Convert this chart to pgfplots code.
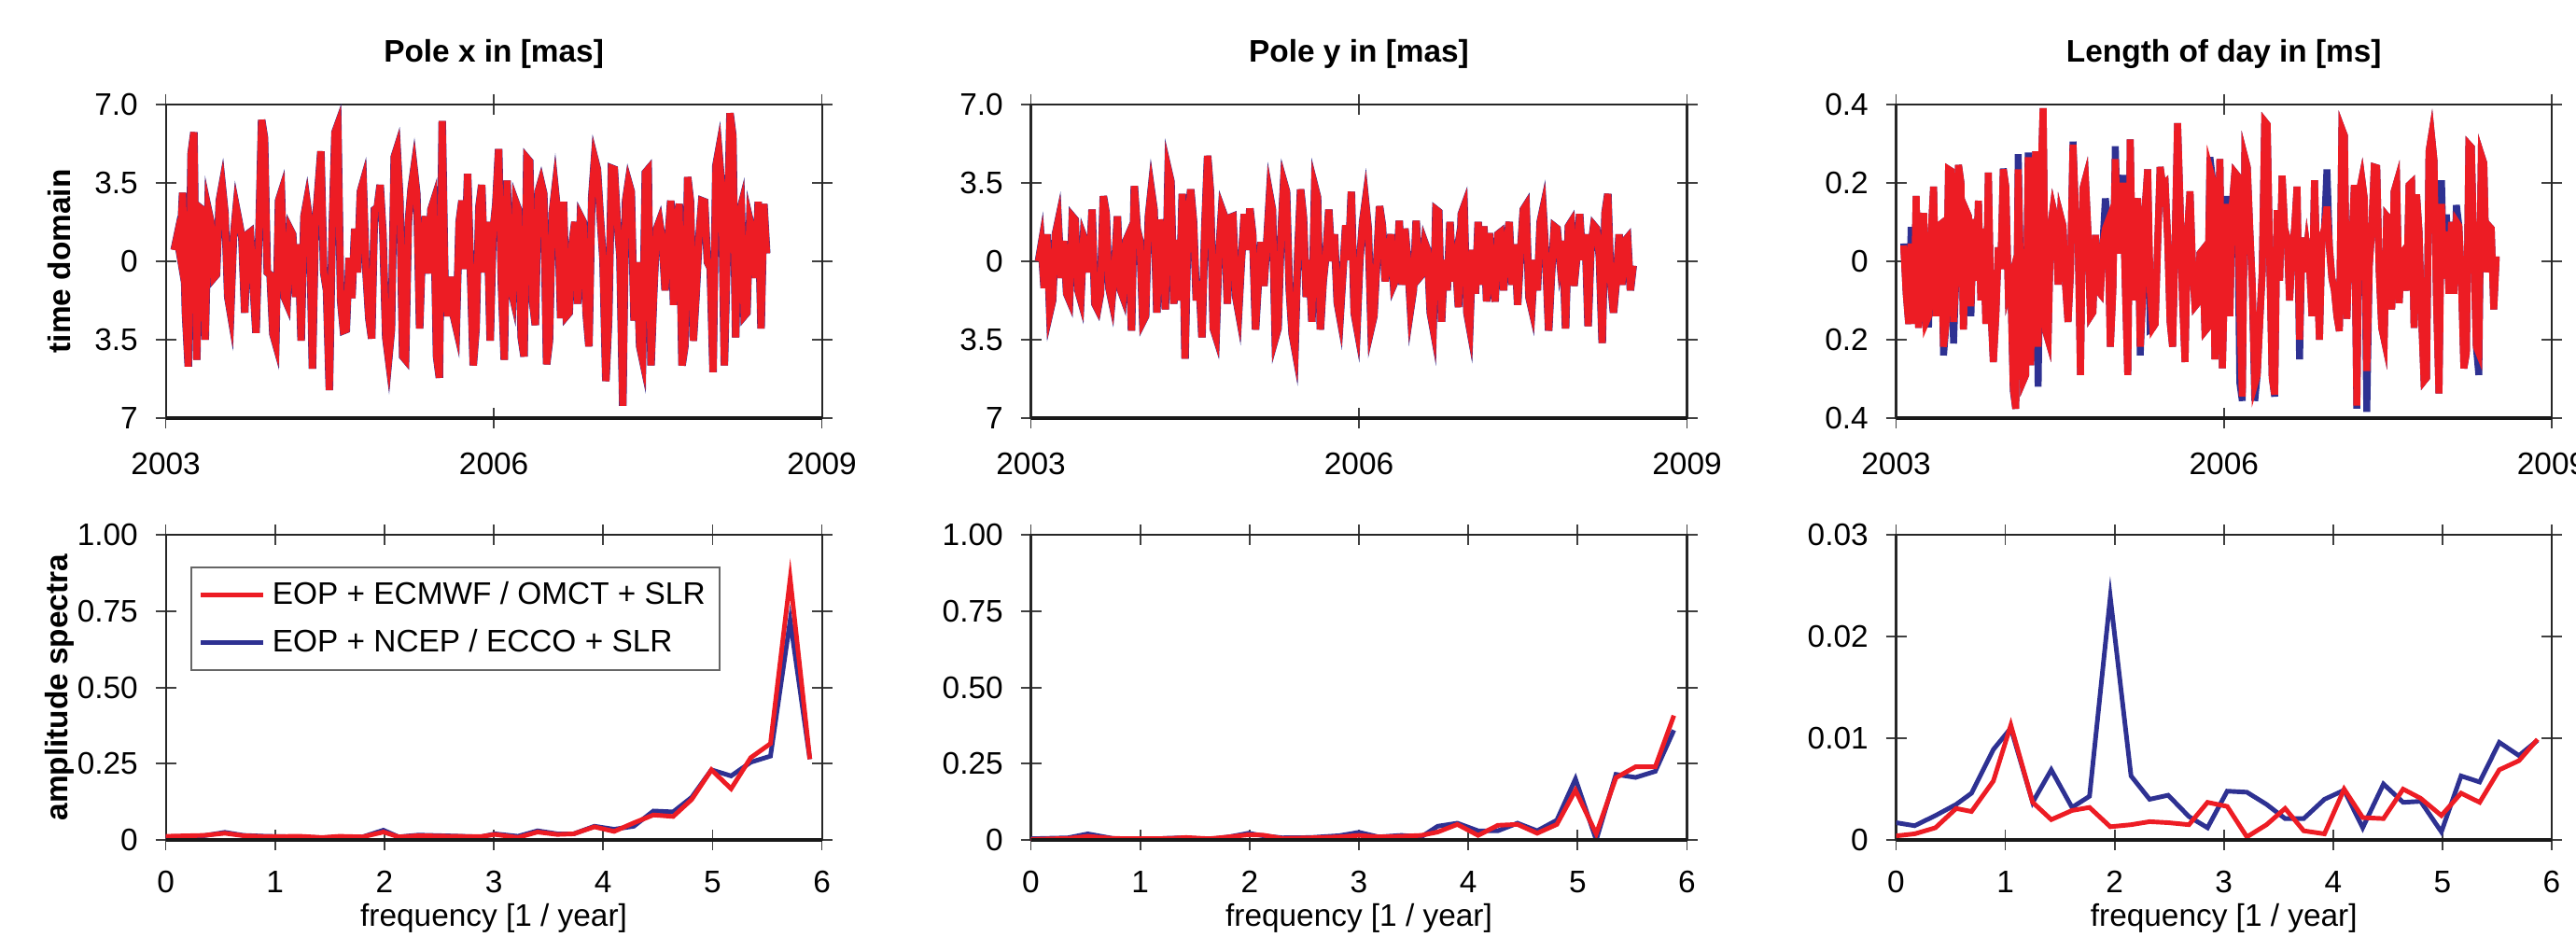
\documentclass[border=0pt]{standalone}
\usepackage{fontspec}
\setmainfont{Liberation Sans}
\usepackage{pgfplots}
\pgfplotsset{compat=1.18}
\usepackage{pgfplotstable}

\definecolor{eopred}{RGB}{237,28,36}
\definecolor{eopblue}{RGB}{46,49,146}

% weekly series (one value per sample)
\pgfplotstableread[row sep=\\]{v\\0.5\\1.1\\0.35\\3.05\\-2.3\\-4.7\\4.8\\5.75\\-4.4\\2.4\\2.3\\-3.5\\2.35\\1.75\\-0.75\\-0.6\\2.7\\3.4\\2.15\\-1.6\\-2.35\\1.05\\2.4\\1.75\\1.05\\-2.3\\1.2\\1.3\\-1.05\\-3.2\\1.05\\6.3\\5.5\\-0.5\\-0.6\\-3.25\\-3.7\\2.7\\3.1\\-1.6\\-1.9\\1.45\\1.2\\-1.6\\0.75\\-3.55\\2.0\\2.7\\1.75\\-4.8\\1.6\\3.25\\4.9\\-0.5\\-1.3\\-5.75\\1.3\\5.75\\6.1\\-1.75\\-3.1\\-3.05\\0.15\\-1.65\\1.45\\-0.5\\3.1\\3.55\\-0.5\\-2.55\\-3.45\\2.3\\2.4\\3.4\\1.2\\-3.4\\-4.4\\-3.05\\4.65\\5.05\\2.7\\-4.25\\-4.4\\1.75\\3.25\\4.15\\3.0\\-3.0\\0.85\\2.0\\-0.55\\2.3\\2.7\\-4.25\\-5.2\\6.25\\-1.3\\-2.45\\-0.7\\-2.45\\-3.0\\1.75\\2.7\\-0.35\\3.9\\-0.35\\-4.65\\-3.0\\2.4\\3.4\\-0.5\\1.75\\-3.55\\1.3\\2.55\\5.0\\-1.05\\-4.4\\3.6\\-1.05\\-1.6\\2.65\\2.3\\-3.4\\-4.25\\4.6\\4.45\\-1.75\\-2.85\\3.1\\3.55\\3.0\\-4.6\\-3.55\\2.15\\3.25\\2.0\\-2.55\\2.65\\-2.45\\-2.3\\0.75\\1.75\\-1.9\\2.0\\1.75\\-2.3\\-3.8\\2.85\\4.6\\4.1\\2.0\\0.05\\-5.35\\-2.55\\4.15\\4.1\\1.85\\0.2\\-6.45\\2.7\\3.55\\3.1\\-2.65\\-0.05\\-3.8\\-4.4\\3.95\\4.1\\-4.65\\-1.3\\1.45\\1.8\\0.9\\-1.3\\0.9\\2.7\\-1.95\\1.85\\2.55\\-4.65\\-3.8\\3.75\\2.65\\-3.55\\-1.45\\1.05\\2.7\\2.65\\-0.05\\-0.3\\-4.95\\4.25\\4.95\\3.4\\-4.65\\0.5\\6.6\\5.6\\-3.4\\2.0\\2.5\\-2.45\\-2.3\\1.85\\1.3\\-0.75\\2.65\\-3.0\\2.55\\0.35\\}\polex

\pgfplotstableread[row sep=\\]{v\\0\\0.75\\-1.2\\1.2\\-2.3\\-1.75\\1.2\\1.8\\-0.75\\0.9\\-1.45\\-1.75\\2.0\\1.85\\-1.3\\-1.75\\1.1\\0.75\\-0.5\\2.3\\-1.9\\-2.15\\-1.45\\2.9\\2.15\\-1.2\\-1.8\\-0.35\\2.0\\-1.25\\-1.6\\0.9\\1.2\\-3.1\\3.35\\1.45\\0.9\\-2.7\\-2.45\\2.0\\3.2\\2.3\\-2.3\\1.85\\1.05\\-2.15\\4.1\\3.55\\-1.9\\0.95\\-1.75\\3.0\\-4.35\\1.75\\3.2\\1.75\\-1.75\\-0.9\\-3.4\\1.45\\4.7\\3.1\\-3.0\\-3.4\\0.35\\2.35\\2.0\\-1.9\\1.95\\2.0\\-1.6\\-2.3\\0.05\\2.1\\0.5\\2.35\\1.2\\-3.05\\-0.9\\0.85\\-1.1\\0.85\\3.0\\2.3\\-3.45\\-3.0\\1.05\\3.55\\3.1\\-1.3\\-3.25\\-3.95\\0.35\\3.2\\1.95\\-1.6\\0.05\\-2.7\\3.35\\2.85\\-3.05\\-0.9\\0.3\\2.3\\0\\1.2\\-1.85\\-2.55\\-0.5\\1.6\\0.05\\3.1\\-2.3\\-3.0\\0.05\\1.75\\2.7\\1.45\\-3.0\\-2.45\\-0.05\\2.45\\1.6\\-0.9\\0.05\\1.2\\-1.05\\-0.75\\1.8\\-1.05\\1.45\\0.05\\-2.15\\-1.3\\1.8\\-0.75\\-0.6\\0.85\\0.5\\-2.3\\-3.0\\2.3\\2.2\\-2.7\\0.05\\-1.3\\1.75\\-0.9\\-0.05\\-2.05\\2.1\\2.45\\-2.3\\-3.0\\0.5\\-1.45\\1.75\\-1.05\\1.55\\-1.8\\1.25\\-0.75\\-1.8\\1.2\\1.3\\-1.3\\0.75\\1.75\\-1.05\\0.75\\-1.95\\0.35\\2.3\\2.5\\-1.6\\-2.15\\0.05\\-1.3\\1.75\\2.35\\0.05\\-3.1\\-0.6\\1.55\\1.45\\0.05\\0.9\\-3.0\\1.55\\1.75\\-1.1\\0.2\\2.1\\0.05\\1.2\\-2.9\\0.6\\1.6\\1.45\\0.2\\-3.65\\2.15\\3.0\\-0.9\\-2.3\\-0.9\\1.2\\-1.05\\0.9\\1.05\\-1.3\\-0.2\\}\poley

% r = ECMWF/OMCT, b = NCEP/ECCO
\pgfplotstableread[row sep=\\]{r b\\0.04 0.045\\-0.083 -0.083\\-0.16 -0.16\\0.045 0.087\\-0.16 -0.16\\0.166 0.166\\-0.17 -0.17\\-0.028 -0.028\\0.123 0.123\\-0.155 -0.16\\-0.14 -0.16\\0.067 0.067\\0.19 0.19\\-0.14 -0.14\\0.09 0.09\\0.095 0.095\\-0.218 -0.24\\-0.16 -0.16\\0.234 0.234\\0.23 0.23\\-0.155 -0.21\\-0.036 -0.036\\0.245 0.245\\0.2 0.2\\-0.174 -0.174\\0.13 0.13\\0.115 0.115\\-0.115 -0.14\\0.107 0.107\\-0.05 -0.05\\0.154 0.154\\-0.1 -0.1\\0.083 0.083\\-0.16 -0.16\\0.226 0.226\\-0.12 -0.12\\-0.257 -0.257\\-0.14 -0.14\\0.035 0.035\\-0.02 -0.02\\0.234 0.236\\0.19 0.19\\-0.075 -0.075\\-0.05 -0.05\\-0.32 -0.33\\-0.376 -0.376\\0.234 0.273\\-0.067 -0.067\\-0.305 -0.305\\-0.29 -0.29\\0.265 0.277\\-0.265 -0.265\\0.083 0.083\\0.28 0.28\\-0.218 -0.32\\0.178 0.178\\0.39 0.39\\-0.178 -0.178\\-0.2 -0.2\\0.083 0.083\\0.135 0.135\\0.107 0.107\\-0.06 -0.06\\0.115 0.115\\0.09 0.09\\-0.06 -0.06\\-0.155 -0.155\\-0.028 -0.028\\0.297 0.305\\0.123 0.123\\0.083 0.083\\-0.29 -0.29\\0.186 0.186\\0.21 0.21\\0.075 0.075\\-0.14 -0.14\\-0.13 -0.13\\0.067 0.067\\-0.075 -0.075\\-0.083 -0.083\\0.043 0.043\\0.083 0.16\\0.1 0.1\\-0.218 -0.218\\-0.075 -0.075\\0.26 0.293\\0.06 0.06\\0.02 0.02\\0.2 0.22\\-0.06 -0.06\\-0.29 -0.29\\0.31 0.31\\-0.1 -0.1\\0.123 0.123\\0.16 0.16\\-0.218 -0.24\\-0.083 -0.083\\0.139 0.139\\0.234 0.234\\-0.075 -0.174\\-0.17 -0.17\\-0.16 -0.16\\0.043 0.043\\0.24 0.24\\0.194 0.194\\0.2 0.2\\0.06 0.06\\-0.155 -0.155\\-0.218 -0.218\\0.043 0.043\\0.352 0.352\\0.146 0.146\\-0.1 -0.1\\-0.257 -0.257\\0.075 0.075\\0.178 0.178\\-0.012 -0.012\\-0.115 -0.115\\-0.107 -0.107\\0.02 0.02\\0.028 0.028\\-0.178 -0.178\\-0.17 -0.17\\0.234 0.265\\0.21 0.21\\-0.25 -0.25\\-0.06 -0.06\\0.26 0.26\\-0.273 -0.273\\-0.004 -0.004\\0.146 0.166\\-0.14 -0.14\\0.146 0.146\\0.226 0.226\\0.218 0.218\\-0.123 -0.31\\-0.345 -0.356\\0.265 0.265\\0.24 0.24\\0.083 0.083\\-0.06 -0.06\\-0.313 -0.356\\-0.29 -0.29\\-0.155 -0.155\\-0.028 -0.028\\0.356 0.356\\0.348 0.348\\0.004 0.004\\-0.297 -0.297\\-0.34 -0.345\\0.13 0.13\\-0.05 -0.05\\0.218 0.218\\0.083 0.083\\0.06 0.06\\-0.1 -0.1\\0.02 0.02\\0.083 0.083\\0.19 0.19\\-0.2 -0.25\\0.06 0.06\\-0.028 -0.028\\0.035 0.035\\-0.012 -0.012\\-0.14 -0.14\\0.206 0.206\\-0.028 -0.028\\-0.2 -0.2\\0.06 0.06\\0.083 0.083\\0.139 0.234\\0.035 0.035\\-0.044 -0.044\\-0.075 -0.075\\-0.14 -0.14\\-0.178 -0.178\\0.337 0.337\\0.32 0.32\\-0.147 -0.147\\0.043 0.043\\0.035 0.035\\0.194 0.194\\-0.368 -0.376\\0.178 0.178\\0.21 0.21\\0.16 0.16\\-0.28 -0.384\\-0.012 -0.012\\0.083 0.083\\0.24 0.24\\0.238 0.238\\-0.028 -0.028\\-0.17 -0.17\\-0.2 -0.2\\0.115 0.115\\0.107 0.107\\-0.123 -0.123\\0.178 0.178\\0.2 0.2\\-0.107 -0.107\\0.02 0.02\\0.028 0.028\\-0.075 -0.075\\0.194 0.194\\0.2 0.2\\-0.17 -0.17\\0.17 0.17\\0.075 0.075\\-0.14 -0.14\\-0.305 -0.305\\-0.297 -0.297\\0.28 0.28\\0.32 0.32\\0.257 0.257\\-0.1 -0.1\\-0.337 -0.337\\0.146 0.206\\-0.044 -0.044\\0.075 0.119\\-0.083 -0.083\\0.1 0.1\\-0.083 -0.083\\0.1 0.143\\0.09 0.09\\-0.044 -0.044\\-0.273 -0.273\\-0.234 -0.234\\0.297 0.297\\0.29 0.29\\0.028 0.028\\-0.218 -0.218\\-0.234 -0.29\\0.27 0.27\\0.25 0.25\\-0.028 -0.028\\0.09 0.09\\0.083 0.083\\-0.123 -0.123\\0.012 0.012\\}\lod

\pgfplotsset{
  panel/.style={
    scale only axis, width=7.03cm,
    axis line style={line width=0.6pt, black!85},
    tick align=center, major tick length=0.22cm,
    tick style={line width=0.5pt, black!75},
    scaled ticks=false,
    yticklabel style={xshift=-0.07cm},
    after end axis/.code={\draw[line width=0.95pt, black!90] (rel axis cs:0,0) -- (rel axis cs:1,0);},
    title style={at={(axis description cs:0.5,1)}, anchor=base, yshift=0.24cm, font=\bfseries},
    ylabel style={at={(axis description cs:-0.1616,0.5)}, anchor=center, font=\bfseries},
  },
  toprow/.style={panel, height=3.363cm,
    ymin=-7, ymax=7, ytick={-7,-3.5,0,3.5,7}, yticklabels={7,3.5,0,3.5,7.0},
    xticklabels={2003,2006,2009},
    xticklabel style={anchor=base, yshift=-0.49cm}},
  botrow/.style={panel, height=3.267cm,
    xmin=0, xmax=6, xtick={0,1,2,3,4,5,6}, xticklabels={0,1,2,3,4,5,6},
    xticklabel style={anchor=base, yshift=-0.45cm},
    xlabel={frequency [1 / year]},
    xlabel style={at={(axis description cs:0.5,0)}, anchor=base, yshift=-0.92cm}},
  redts/.style={eopred, line width=2.1pt},
  bluets/.style={eopblue, line width=2.1pt},
  redsp/.style={eopred, line width=1.4pt},
  bluesp/.style={eopblue, line width=1.4pt},
}

\begin{document}
\fontsize{9.5}{11.4}\selectfont
\begin{tikzpicture}[font=\fontsize{9.5}{11.4}\selectfont]

% ---- time domain ----
\begin{axis}[toprow, at={(1.776cm,5.70cm)}, anchor=south west,
  xmin=-2.984, xmax=229.57, xtick={-2.984,113.29,229.57},
  title={Pole x in [mas]}, ylabel={time domain}]
  \addplot[bluets, line width=2.3pt] table[x expr=\coordindex, y=v] {\polex};
  \addplot[redts] table[x expr=\coordindex, y=v] {\polex};
\end{axis}

\begin{axis}[toprow, at={(11.045cm,5.70cm)}, anchor=south west,
  xmin=-2.704, xmax=230.09, xtick={-2.704,113.69,230.09},
  title={Pole y in [mas]}]
  \addplot[bluets, line width=2.3pt] table[x expr=\coordindex, y=v] {\poley};
  \addplot[redts] table[x expr=\coordindex, y=v] {\poley};
\end{axis}

\begin{axis}[toprow, at={(20.315cm,5.70cm)}, anchor=south west, width=7.025cm,
  ymin=-0.4, ymax=0.4, ytick={-0.4,-0.2,0,0.2,0.4}, yticklabels={0.4,0.2,0,0.2,0.4},
  xmin=-3.059, xmax=260.30, xtick={-3.059,128.62,260.30},
  title={Length of day in [ms]}]
  \addplot[bluets] table[x expr=\coordindex, y=b] {\lod};
  \addplot[redts] table[x expr=\coordindex, y=r] {\lod};
\end{axis}

% ---- amplitude spectra ----
\begin{axis}[botrow, at={(1.776cm,1.18cm)}, anchor=south west,
  ymin=0, ymax=1, ytick={0,0.25,0.5,0.75,1}, yticklabels={0,0.25,0.50,0.75,1.00},
  ylabel={amplitude spectra},
  legend style={at={(axis description cs:0.0376,0.897)}, anchor=north west,
    draw=black!60, line width=0.5pt, inner xsep=0.08cm, inner ysep=0.08cm,
    row sep=0.08cm, font=\fontsize{9.5}{11.4}\selectfont},
  legend cell align=left,
  legend image code/.code={\draw[#1] (0cm,0cm) -- (0.67cm,0cm);}]
  \addplot[bluesp, forget plot] coordinates {(0,0.010) (0.35,0.014) (0.54,0.025) (0.71,0.015) (0.92,0.012) (1.23,0.010) (1.43,0.007) (1.59,0.010) (1.80,0.010) (1.99,0.032) (2.13,0.010) (2.31,0.016) (2.62,0.013) (2.88,0.010) (3.01,0.020) (3.22,0.012) (3.40,0.030) (3.58,0.020) (3.73,0.020) (3.92,0.045) (4.10,0.035) (4.28,0.045) (4.46,0.095) (4.64,0.092) (4.81,0.140) (4.99,0.230) (5.17,0.210) (5.35,0.255) (5.53,0.275) (5.71,0.720) (5.89,0.265)};
  \addplot[redsp] coordinates {(0,0.012) (0.35,0.015) (0.54,0.022) (0.71,0.014) (0.92,0.011) (1.23,0.012) (1.43,0.008) (1.59,0.012) (1.80,0.010) (1.99,0.026) (2.13,0.010) (2.31,0.014) (2.62,0.012) (2.88,0.011) (3.01,0.018) (3.22,0.008) (3.40,0.026) (3.58,0.018) (3.73,0.020) (3.92,0.043) (4.10,0.028) (4.28,0.056) (4.46,0.082) (4.64,0.077) (4.81,0.133) (4.99,0.230) (5.17,0.168) (5.35,0.270) (5.53,0.316) (5.71,0.857) (5.89,0.265)};
  \addlegendentry{EOP + ECMWF / OMCT + SLR\hspace{0.17cm}}
  \addlegendimage{bluesp}
  \addlegendentry{EOP + NCEP / ECCO + SLR}
\end{axis}

\begin{axis}[botrow, at={(11.045cm,1.18cm)}, anchor=south west,
  ymin=0, ymax=1, ytick={0,0.25,0.5,0.75,1}, yticklabels={0,0.25,0.50,0.75,1.00}]
  \addplot[bluesp] coordinates {(0,0.004) (0.34,0.007) (0.52,0.020) (0.75,0.005) (1.01,0.001) (1.27,0.006) (1.42,0.007) (1.63,0.002) (1.81,0.010) (1.99,0.022) (2.12,0.014) (2.30,0.007) (2.56,0.008) (2.82,0.014) (3.00,0.025) (3.18,0.010) (3.39,0.015) (3.57,0.010) (3.72,0.045) (3.90,0.055) (4.09,0.030) (4.27,0.030) (4.45,0.055) (4.63,0.030) (4.81,0.065) (4.98,0.200) (5.17,0.000) (5.35,0.215) (5.53,0.205) (5.71,0.225) (5.88,0.360)};
  \addplot[redsp] coordinates {(0,0.002) (0.34,0.005) (0.52,0.012) (0.75,0.005) (1.01,0.004) (1.27,0.005) (1.42,0.008) (1.63,0.004) (1.81,0.010) (1.99,0.017) (2.12,0.016) (2.30,0.005) (2.56,0.007) (2.82,0.010) (3.00,0.015) (3.18,0.010) (3.39,0.012) (3.57,0.015) (3.72,0.026) (3.90,0.051) (4.09,0.015) (4.27,0.048) (4.45,0.051) (4.63,0.022) (4.81,0.051) (4.98,0.163) (5.17,0.020) (5.35,0.204) (5.53,0.240) (5.71,0.240) (5.88,0.408)};
\end{axis}

\begin{axis}[botrow, at={(20.315cm,1.18cm)}, anchor=south west, width=7.025cm,
  ymin=0, ymax=0.03, ytick={0,0.01,0.02,0.03}, yticklabels={0,0.01,0.02,0.03}]
  \addplot[bluesp] coordinates {(0,0.0017) (0.17,0.0014) (0.36,0.0024) (0.55,0.0035) (0.69,0.0046) (0.89,0.0089) (1.05,0.0110) (1.25,0.0037) (1.42,0.0069) (1.61,0.0032) (1.77,0.0043) (1.96,0.0239) (2.15,0.0063) (2.32,0.0040) (2.49,0.0044) (2.68,0.0023) (2.85,0.0012) (3.03,0.0048) (3.21,0.0047) (3.39,0.0035) (3.56,0.0021) (3.73,0.0021) (3.92,0.0040) (4.10,0.0049) (4.27,0.0012) (4.46,0.0055) (4.64,0.0037) (4.80,0.0038) (4.99,0.0008) (5.17,0.0063) (5.34,0.0057) (5.52,0.0096) (5.70,0.0083) (5.87,0.0098)};
  \addplot[redsp] coordinates {(0,0.0004) (0.17,0.0006) (0.36,0.0012) (0.55,0.0031) (0.69,0.0028) (0.89,0.0058) (1.05,0.0113) (1.25,0.0037) (1.42,0.0020) (1.61,0.0029) (1.77,0.0032) (1.96,0.0013) (2.15,0.0015) (2.32,0.0018) (2.49,0.0017) (2.68,0.0015) (2.85,0.0037) (3.03,0.0033) (3.21,0.0003) (3.39,0.0015) (3.56,0.0031) (3.73,0.0009) (3.92,0.0006) (4.10,0.0050) (4.27,0.0022) (4.46,0.0021) (4.64,0.0050) (4.80,0.0041) (4.99,0.0024) (5.17,0.0046) (5.34,0.0037) (5.52,0.0069) (5.70,0.0078) (5.87,0.0099)};
\end{axis}

\pgfresetboundingbox
\path[use as bounding box] (0,0) rectangle (27.6,10.18);
\end{tikzpicture}
\end{document}
